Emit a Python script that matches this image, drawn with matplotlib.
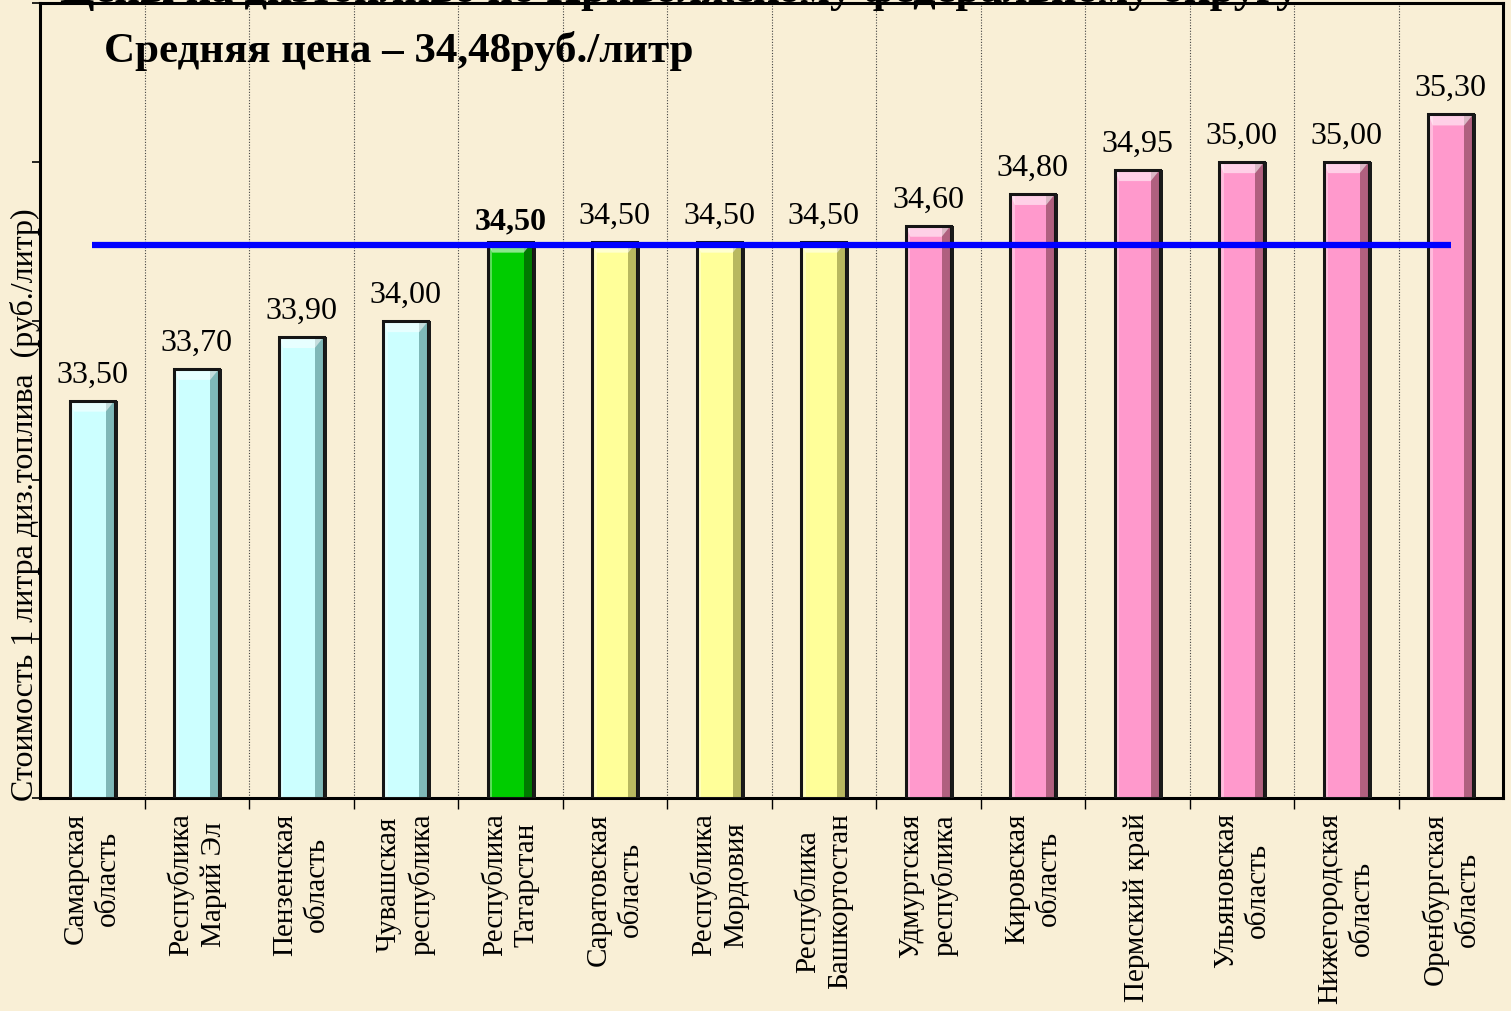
import matplotlib
matplotlib.use("Agg")
import matplotlib.pyplot as plt
from matplotlib.patches import Rectangle, Polygon

plt.rcParams['font.family'] = ['Liberation Serif', 'DejaVu Serif']

# data
regions = ['Самарская\nобласть', 'Республика\nМарий Эл', 'Пензенская\nобласть',
           'Чувашская\nреспублика', 'Республика\nТатарстан', 'Саратовская\nобласть',
           'Республика\nМордовия', 'Республика\nБашкортостан', 'Удмуртская\nреспублика',
           'Кировская\nобласть', 'Пермский край', 'Ульяновская\nобласть',
           'Нижегородская\nобласть', 'Оренбургская\nобласть']
prices = [33.50, 33.70, 33.90, 34.00, 34.50, 34.50, 34.50, 34.50,
          34.60, 34.80, 34.95, 35.00, 35.00, 35.30]
groups = ['low', 'low', 'low', 'low', 'tat', 'mid', 'mid', 'mid',
          'high', 'high', 'high', 'high', 'high', 'high']
mean_price = 34.48

colors = {'low': ('#ccffff', '#7fb8b8'), 'tat': ('#00cc00', '#007a00'),
          'mid': ('#ffff99', '#b8b860'), 'high': ('#ff99cc', '#b0607f')}

bg = '#f9efd6'
fig = plt.figure(figsize=(15.11, 10.11), dpi=100, facecolor=bg)
ax = fig.add_axes([40/1511, 213/1011, 1463/1511, 795/1011], facecolor=bg)

ymin = 31.0
w = 0.43
for i, (v, g) in enumerate(zip(prices, groups)):
    base, dark = colors[g]
    x0 = i - w/2
    ax.add_patch(Rectangle((x0, ymin), w, v - ymin, facecolor=base,
                           edgecolor='none', zorder=3))
    # side shading for bevel look
    ax.add_patch(Rectangle((x0 + w*0.80, ymin), w*0.20, v - ymin,
                           facecolor=dark, edgecolor='none', zorder=4))
    ax.add_patch(Rectangle((x0, ymin), w*0.10, v - ymin,
                           facecolor='white', alpha=0.35, edgecolor='none', zorder=4))
    dv = 0.07
    ax.add_patch(Polygon([(x0, v), (x0 + w, v), (x0 + w*0.8, v - dv), (x0 + w*0.1, v - dv)],
                         closed=True, facecolor='white', alpha=0.55, edgecolor='none', zorder=5))
    ax.add_patch(Rectangle((x0, ymin), w, v - ymin, facecolor='none',
                           edgecolor='#151515', lw=2.2, zorder=6))
    ax.add_patch(Rectangle((x0 + w, ymin), 0.03, v - ymin, facecolor='#1a1a1a',
                           edgecolor='none', zorder=6))
    label = f'{v:.2f}'.replace('.', ',')
    bold = g == 'tat'
    ax.text(i, v + (0.03 if bold else 0.07), label, ha='center', va='bottom', fontsize=23,
            fontweight='bold' if bold else 'normal', zorder=7)

ax.hlines(mean_price, 0, len(prices) - 1, color='#0000ff', lw=4.5, zorder=8)

ax.set_xlim(-0.5, len(prices) - 0.5)
ax.set_ylim(ymin, 36.0)

ax.set_yticks(range(31, 37))
ax.set_yticklabels([])
ax.tick_params(axis='y', direction='out', length=6, width=1.2)

ax.set_xticks(range(len(prices)))
ax.set_xticklabels(regions, rotation=90, fontsize=21, va='top', ha='center',
                   multialignment='center', linespacing=1.3)
ax.tick_params(axis='x', which='major', length=0, pad=11)
ax.set_xticks([i + 0.5 for i in range(len(prices) - 1)], minor=True)
ax.tick_params(axis='x', which='minor', direction='out', length=8, width=1)
ax.grid(which='minor', axis='x', linestyle=(0, (1, 1.5)), color='#444444', lw=0.8, zorder=1)

for s in ax.spines.values():
    s.set_linewidth(2.2)
    s.set_color('black')

ax.text(0.044, 0.94, 'Средняя цена – 34,48руб./литр', transform=ax.transAxes,
        fontsize=31, fontweight='bold', ha='left', va='center')

fig.text(25/1511, (1011-505)/1011, 'Стоимость 1 литра диз.топлива  (руб./литр)',
         rotation=90, fontsize=23, ha='center', va='center')

# top title, mostly outside the slide
fig.text(60/1511, 1.0 - 2/1011, 'Цены на дизтопливо по Приволжскому федеральному округу',
         fontsize=32, fontweight='bold', ha='left', va='baseline')

fig.savefig('out.png', dpi=100, facecolor=bg)
